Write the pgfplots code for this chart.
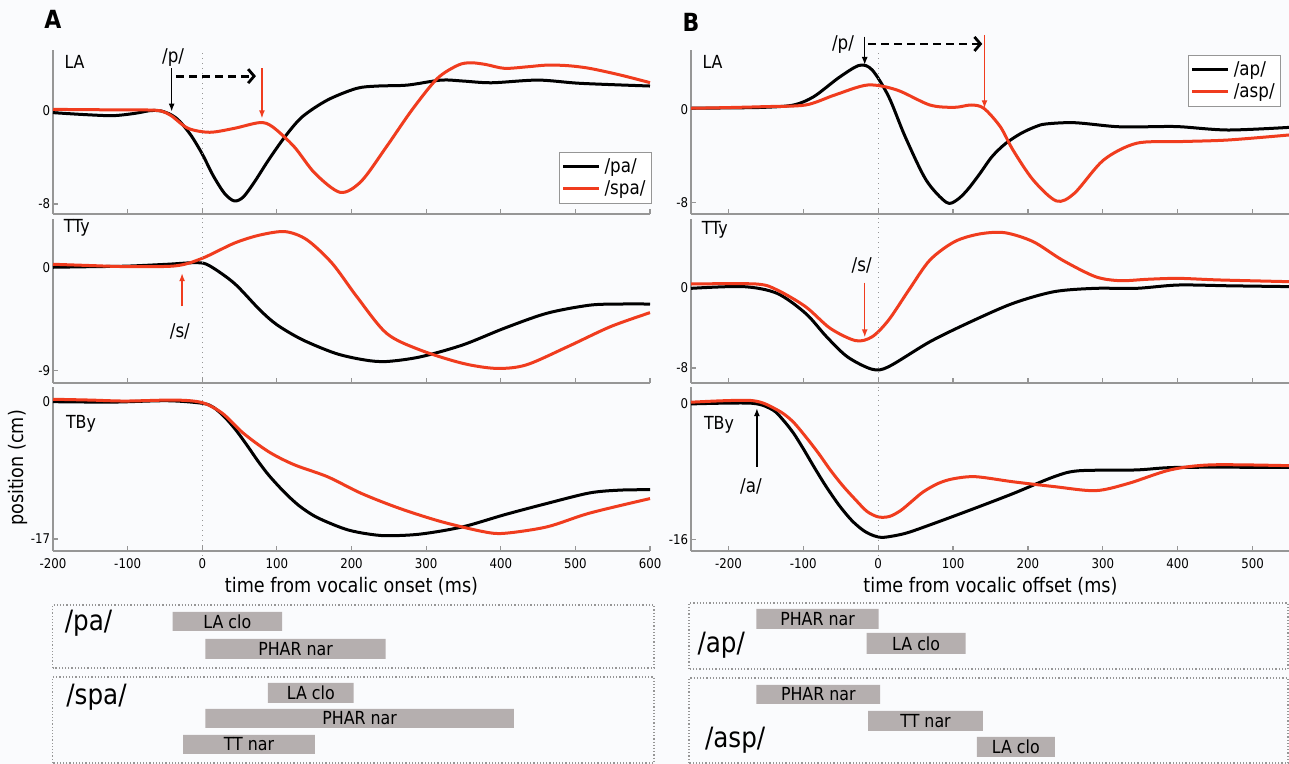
\documentclass[border=0pt]{standalone}
\usepackage{fontspec}
\setmainfont[FakeStretch=0.88]{DejaVu Sans}
\usepackage{pgfplots}
\pgfplotsset{compat=1.18}
\usetikzlibrary{arrows.meta}

\definecolor{myred}{RGB}{240,60,30}
\definecolor{axgray}{RGB}{150,150,150}
\definecolor{bargray}{RGB}{181,175,175}
\definecolor{bg}{RGB}{250,251,253}

\pgfplotsset{
  panel/.style={
    scale only axis, height=82pt,
    axis x line*=bottom, axis y line*=left,
    axis line style={axgray, line width=0.6pt},
    tick align=inside, major tick length=2.5pt,
    every tick/.style={axgray, line width=0.6pt},
    tick label style={font=\fontsize{6.7}{7}\selectfont, text=black},
    yticklabel style={inner sep=1.2pt},
    /pgf/number format/assume math mode=true,
    clip=false,
    legend cell align=left,
    legend image code/.code={\draw[##1, line width=1.5pt] (0pt,0pt) -- (18pt,0pt);},
    legend style={draw=axgray, fill=white, font=\fontsize{9.5}{10}\selectfont, inner sep=1pt, row sep=-1.5pt},
    xlabel style={font=\fontsize{10}{11}\selectfont, yshift=2.5pt},
  },
  colA/.style={panel, width=298.5pt, xmin=-200, xmax=600, xtick={-200,-100,...,600}},
  colB/.style={panel, width=299.5pt, xmin=-250, xmax=550, xtick={-200,-100,...,500}},
  curve/.style={line width=1.5pt, smooth, no markers},
  gbox/.style={scale only axis, ticks=none, ymin=0, clip=false,
    axis line style={axgray, densely dotted, line width=0.6pt}},
}
\newcommand\zeroline{\draw[axgray, dotted, line width=0.5pt] ({axis cs:0,0} |- {rel axis cs:0,-0.03}) -- ({axis cs:0,0} |- {rel axis cs:0,1});}
\newcommand\lab{\fontsize{9}{10}\selectfont}
\newcommand\ann{\fontsize{9.5}{10}\selectfont}
\newcommand\barf{\fontsize{9}{10}\selectfont}
\newcommand\bigf{\fontsize{14}{15}\selectfont}
\tikzset{thinarrow/.style={-{Latex[length=4pt,width=3pt]}, line width=0.7pt},
  dasharrow/.style={line width=1.4pt, dash pattern=on 4pt off 2.5pt, -{Straight Barb[length=3pt,width=7pt]}}}

\begin{document}
\begin{tikzpicture}
\useasboundingbox (0,0) rectangle (644.5pt,382pt);
\fill[bg] (0,0) rectangle (644.5pt,382pt);

\node[font=\fontsize{12.5}{13}\selectfont\bfseries] at (26.5pt,372.5pt) {A};
\node[font=\fontsize{12.5}{13}\selectfont\bfseries] at (345.5pt,371pt) {B};
\node[rotate=90, font=\fontsize{10}{11}\selectfont] at (9pt,148pt) {position (cm)};

% ---------------- A: LA
\begin{axis}[colA, at={(26.5pt,275pt)}, ymin=-8.86, ymax=5.25, ytick={-8,0}, xticklabels={},
  legend style={at={(1.003,0.378)}, anchor=north east}]
\addplot[curve, black] coordinates {(-200,-0.14) (-160,-0.3) (-120,-0.4) (-90,-0.2) (-70,0.03) (-55,0.0) (-41,-0.35) (-30,-0.9) (-15,-2.1) (0,-3.7) (15,-5.6) (30,-7.1) (43,-7.74) (55,-7.4) (70,-6.1) (89,-4.2) (111,-2.2) (134,-0.5) (168,0.95) (207,1.95) (236,2.15) (275,2.23) (320,2.66) (349,2.58) (388,2.43) (450,2.66) (507,2.38) (600,2.15)};
\addplot[curve, myred] coordinates {(-200,0.14) (-120,0.1) (-75,0.09) (-55,0.0) (-41,-0.43) (-19,-1.49) (10,-1.83) (43,-1.49) (77,-1.0) (94,-1.35) (123,-3.06) (151,-5.36) (185,-7.0) (213,-6.05) (247,-3.06) (281,0.09) (315,2.8) (343,3.95) (360,4.15) (380,4.0) (405,3.67) (435,3.8) (462,3.95) (490,3.9) (519,3.67) (560,3.1) (600,2.44)};
\legend{/pa/,/spa/}
\zeroline
\node[anchor=west, font=\lab] at (axis cs:-194,4.2) {LA};
\node[font=\ann] at (axis cs:-39,4.6) {/p/};
\draw[thinarrow] (axis cs:-41,3.67) -- (axis cs:-41,-0.05);
\draw[dasharrow] (axis cs:-35,3.0) -- (axis cs:72,3.0);
\draw[thinarrow, myred] (axis cs:80,3.67) -- (axis cs:80,-0.63);
\end{axis}

% ---------------- A: TTy
\begin{axis}[colA, at={(26.5pt,190.5pt)}, ymin=-10.07, ymax=4.2, ytick={-9,0}, xticklabels={}]
\addplot[curve, black] coordinates {(-200,0) (-150,0.05) (-100,0.1) (-47,0.26) (-7,0.4) (10,0.12) (43,-1.4) (77,-3.7) (100,-5.0) (134,-6.3) (179,-7.5) (218,-8.07) (247,-8.2) (292,-7.8) (349,-6.76) (405,-5.3) (462,-4.0) (519,-3.3) (560,-3.2) (600,-3.2)};
\addplot[curve, myred] coordinates {(-200,0.26) (-150,0.15) (-103,0.06) (-36,0.12) (0,0.78) (43,2.1) (77,2.8) (111,3.1) (140,2.4) (174,0.35) (207,-2.55) (247,-5.75) (292,-7.2) (349,-8.36) (394,-8.8) (434,-8.5) (490,-6.9) (547,-5.17) (600,-3.95)};
\zeroline
\node[anchor=west, font=\lab] at (axis cs:-195,3.4) {TTy};
\draw[thinarrow, myred] (axis cs:-27,-3.4) -- (axis cs:-27,-0.52);
\node[font=\ann] at (axis cs:-30,-5.6) {/s/};
\end{axis}

% ---------------- A: TBy
\begin{axis}[colA, at={(26.5pt,106.5pt)}, ymin=-18.49, ymax=1.82, ytick={-17,0},
  xlabel={time from vocalic onset (ms)}]
\addplot[curve, black] coordinates {(-200,0) (-120,-0.05) (-47,0.12) (0,-0.2) (15,-0.7) (30,-1.9) (45,-3.5) (60,-5.4) (75,-7.4) (90,-9.2) (111,-11.3) (130,-12.9) (151,-14.2) (175,-15.2) (196,-15.9) (220,-16.35) (247,-16.6) (292,-16.4) (349,-15.5) (405,-14.0) (462,-12.6) (519,-11.3) (560,-10.95) (600,-10.9)};
\addplot[curve, myred] coordinates {(-200,0.3) (-150,0.2) (-103,0.08) (-36,0.2) (0,-0.12) (27,-1.44) (55,-3.9) (89,-6.2) (123,-7.8) (168,-9.3) (213,-11.35) (264,-13.2) (320,-14.85) (377,-16.1) (405,-16.3) (462,-15.5) (519,-13.8) (600,-12.0)};
\zeroline
\node[anchor=west, font=\lab] at (axis cs:-192,-2.7) {TBy};
\end{axis}

% ---------------- B: LA
\begin{axis}[colB, at={(345.5pt,275pt)}, ymin=-9.0, ymax=5.1, ytick={-8,0}, xticklabels={},
  legend style={at={(0.985,0.97)}, anchor=north east}]
\addplot[curve, black] coordinates {(-250,0.09) (-200,0.12) (-152,0.17) (-113,0.37) (-86,1.09) (-52,2.75) (-25,3.78) (-8,3.38) (14,1.09) (36,-2.35) (64,-6.08) (91,-8.0) (105,-7.8) (119,-6.94) (135,-5.6) (152,-4.07) (170,-2.95) (191,-2.06) (210,-1.5) (224,-1.26) (262,-1.15) (318,-1.49) (360,-1.5) (401,-1.49) (467,-1.78) (550,-1.55)};
\addplot[curve, myred] coordinates {(-250,0.09) (-200,0.15) (-152,0.23) (-97,0.37) (-58,1.23) (-14,2.09) (25,1.66) (69,0.37) (102,0.17) (124,0.37) (141,0.09) (163,-1.49) (180,-3.5) (207,-6.08) (238,-7.88) (262,-7.22) (301,-4.36) (345,-2.92) (401,-2.78) (467,-2.64) (550,-2.2)};
\legend{/ap/,/asp/}
\zeroline
\node[anchor=west, font=\lab] at (axis cs:-244,4.07) {LA};
\node[font=\ann] at (axis cs:-47,5.53) {/p/};
\draw[thinarrow] (axis cs:-18,6.25) -- (axis cs:-18,3.81);
\draw[dasharrow] (axis cs:-13,5.62) -- (axis cs:139,5.62);
\draw[thinarrow, myred] (axis cs:142,6.39) -- (axis cs:142,0.09);
\end{axis}

% ---------------- B: TTy
\begin{axis}[colB, at={(345.5pt,190.5pt)}, ymin=-9.49, ymax=6.78, ytick={-8,0}, xticklabels={}]
\addplot[curve, black] coordinates {(-250,-0.1) (-180,0.07) (-135,-0.6) (-97,-2.58) (-69,-4.9) (-41,-6.9) (-8,-8.13) (14,-7.87) (69,-5.4) (124,-3.4) (180,-1.59) (235,-0.43) (290,-0.1) (345,-0.1) (401,0.23) (470,0.15) (550,0.07)};
\addplot[curve, myred] coordinates {(-250,0.33) (-163,0.33) (-135,-0.26) (-97,-1.92) (-64,-4.07) (-30,-5.29) (-8,-4.9) (14,-3.24) (41,-0.26) (69,2.7) (102,4.53) (135,5.29) (169,5.42) (207,4.53) (246,2.7) (290,1.06) (323,0.66) (360,0.8) (401,0.89) (456,0.73) (550,0.56)};
\zeroline
\node[anchor=west, font=\lab] at (axis cs:-245,5.7) {TTy};
\node[font=\ann] at (axis cs:-22,2.2) {/s/};
\draw[thinarrow, myred] (axis cs:-18,0.46) -- (axis cs:-18,-4.96);
\end{axis}

% ---------------- B: TBy
\begin{axis}[colB, at={(345.5pt,106.5pt)}, ymin=-17.38, ymax=2.0, ytick={-16,0},
  xlabel={time from vocalic offset (ms)}]
\addplot[curve, black] coordinates {(-250,0) (-169,0.08) (-141,-0.7) (-127,-1.9) (-113,-3.47) (-100,-5.3) (-86,-7.4) (-70,-9.7) (-52,-12.0) (-35,-13.8) (-19,-15.0) (-5,-15.6) (8,-15.76) (36,-15.3) (69,-14.3) (124,-12.5) (180,-10.6) (235,-8.6) (268,-7.9) (345,-7.8) (401,-7.5) (550,-7.5)};
\addplot[curve, myred] coordinates {(-250,0.2) (-169,0.4) (-135,-0.7) (-115,-2.0) (-97,-3.86) (-80,-5.8) (-64,-7.8) (-47,-9.7) (-30,-11.35) (-15,-12.7) (0,-13.35) (15,-13.3) (30,-12.6) (45,-11.5) (60,-10.4) (80,-9.4) (100,-8.85) (130,-8.6) (180,-9.2) (235,-9.77) (290,-10.25) (334,-9.4) (390,-7.8) (445,-7.2) (550,-7.3)};
\zeroline
\node[anchor=west, font=\lab] at (axis cs:-242,-2.5) {TBy};
\draw[thinarrow] (axis cs:-162,-7.4) -- (axis cs:-162,-0.5);
\node[font=\ann] at (axis cs:-170,-9.8) {/a/};
\end{axis}

% ---------------- gestural scores A
\begin{axis}[gbox, at={(26.3pt,48pt)}, width=300.7pt, height=31.5pt, xmin=-202, xmax=605, ymax=63]
\addplot[fill=bargray, draw=none] coordinates {(-41,37) (106,37) (106,56) (-41,56) (-41,37)};
\addplot[fill=bargray, draw=none] coordinates {(3,9) (245,9) (245,29) (3,29) (3,9)};
\node[font=\barf] at (axis cs:32.5,46.5) {LA clo};
\node[font=\barf] at (axis cs:124,19) {PHAR nar};
\node[anchor=west, font=\bigf] at (axis cs:-195,45) {/pa/};
\end{axis}
\begin{axis}[gbox, at={(26.3pt,0.5pt)}, width=300.7pt, height=43pt, xmin=-202, xmax=605, ymax=86]
\addplot[fill=bargray, draw=none] coordinates {(87,60) (202,60) (202,80) (87,80) (87,60)};
\addplot[fill=bargray, draw=none] coordinates {(3,35) (417,35) (417,54) (3,54) (3,35)};
\addplot[fill=bargray, draw=none] coordinates {(-27,9) (150,9) (150,28) (-27,28) (-27,9)};
\node[font=\barf] at (axis cs:144.5,70) {LA clo};
\node[font=\barf] at (axis cs:210,44.5) {PHAR nar};
\node[font=\barf] at (axis cs:61.5,18.5) {TT nar};
\node[anchor=west, font=\bigf] at (axis cs:-193,66) {/spa/};
\end{axis}

% ---------------- gestural scores B
\begin{axis}[gbox, at={(344.5pt,47.5pt)}, width=299.5pt, height=33pt, xmin=-252, xmax=547, ymax=66]
\addplot[fill=bargray, draw=none] coordinates {(-162,40) (1,40) (1,60) (-162,60) (-162,40)};
\addplot[fill=bargray, draw=none] coordinates {(-15,15) (117,15) (117,36) (-15,36) (-15,15)};
\node[font=\barf] at (axis cs:-80.5,50) {PHAR nar};
\node[font=\barf] at (axis cs:51,25.5) {LA clo};
\node[anchor=west, font=\bigf] at (axis cs:-250,24) {/ap/};
\end{axis}
\begin{axis}[gbox, at={(344.5pt,0.5pt)}, width=299.5pt, height=42.5pt, xmin=-252, xmax=547, ymax=85]
\addplot[fill=bargray, draw=none] coordinates {(-162,59) (3,59) (3,78) (-162,78) (-162,59)};
\addplot[fill=bargray, draw=none] coordinates {(-13,32) (140,32) (140,52) (-13,52) (-13,32)};
\addplot[fill=bargray, draw=none] coordinates {(132,6) (236,6) (236,26) (132,26) (132,6)};
\node[font=\barf] at (axis cs:-79.5,68.5) {PHAR nar};
\node[font=\barf] at (axis cs:63.5,42) {TT nar};
\node[font=\barf] at (axis cs:184,16) {LA clo};
\node[anchor=west, font=\bigf] at (axis cs:-240,23) {/asp/};
\end{axis}
\end{tikzpicture}
\end{document}
